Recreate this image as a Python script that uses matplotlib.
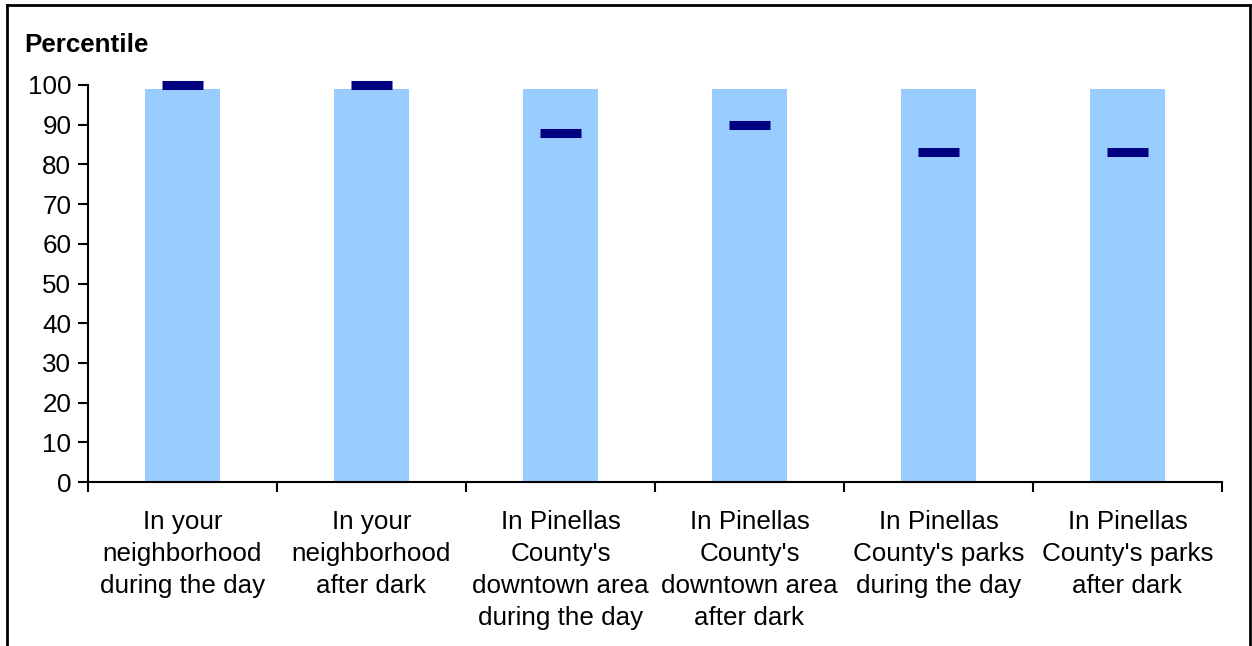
import matplotlib.pyplot as plt
import numpy as np
from matplotlib.lines import Line2D

plt.rcParams['font.family'] = ['Liberation Sans', 'DejaVu Sans']

categories = [
    "In your\nneighborhood\nduring the day",
    "In your\nneighborhood\nafter dark",
    "In Pinellas\nCounty's\ndowntown area\nduring the day",
    "In Pinellas\nCounty's\ndowntown area\nafter dark",
    "In Pinellas\nCounty's parks\nduring the day",
    "In Pinellas\nCounty's parks\nafter dark",
]
bar_values = [99, 99, 99, 99, 99, 99]
percentiles = [100, 100, 88, 90, 83, 83]

fig = plt.figure(figsize=(12.52, 6.46), dpi=100)
ax = fig.add_axes([88 / 1252, 1 - 482 / 646, (1222 - 88) / 1252, (482 - 85) / 646])

x = np.arange(len(categories))
ax.bar(x, bar_values, width=0.4, color='#99CCFF', zorder=1)
ax.hlines(percentiles, x - 0.11, x + 0.11, color='#000080', lw=6.5, zorder=3, clip_on=False)

ax.set_xlim(-0.5, len(categories) - 0.5)
ax.set_ylim(0, 100)
ax.set_yticks(range(0, 101, 10))
ax.set_xticks(np.arange(-0.5, len(categories), 1.0))
ax.set_xticklabels([])
ax.set_xticks(x, minor=True)
ax.set_xticklabels(categories, minor=True, fontsize=18.7, linespacing=1.43, va='top')
ax.tick_params(axis='x', which='minor', length=0, pad=20)
ax.tick_params(axis='x', which='major', length=7, width=1.5, direction='out')
ax.tick_params(axis='y', length=7, width=1.5, labelsize=18.7, pad=5)

for s in ['top', 'right']:
    ax.spines[s].set_visible(False)
for s in ['left', 'bottom']:
    ax.spines[s].set_linewidth(1.5)

fig.text(24 / 1252, 1 - 45 / 646, "Percentile", fontsize=18.7, fontweight='bold', va='center', ha='left')

# outer border
fig.add_artist(Line2D([7 / 1252, 7 / 1252], [0, 1 - 5 / 646], color='black', lw=2))
fig.add_artist(Line2D([7 / 1252, 1250 / 1252], [1 - 5 / 646, 1 - 5 / 646], color='black', lw=2))
fig.add_artist(Line2D([1250 / 1252, 1250 / 1252], [0, 1 - 5 / 646], color='black', lw=2))

fig.savefig("out.png", dpi=100)
